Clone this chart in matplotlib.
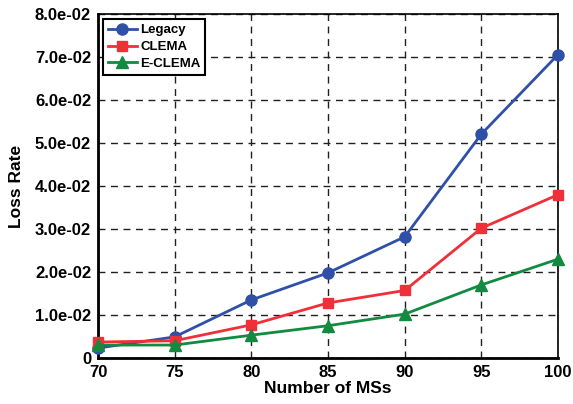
import matplotlib.pyplot as plt
import numpy as np

plt.rcParams['font.family'] = ['Liberation Sans', 'DejaVu Sans']
plt.rcParams['font.weight'] = 'bold'

# Data
num_ms = [70, 75, 80, 85, 90, 95, 100]
legacy = [0.0023, 0.0049, 0.0135, 0.0198, 0.0282, 0.0521, 0.0706]
clema = [0.0037, 0.0040, 0.0077, 0.0128, 0.0157, 0.0302, 0.0380]
eclema = [0.0030, 0.0030, 0.0053, 0.0075, 0.0102, 0.0170, 0.0230]

y_ticks = [0, 0.01, 0.02, 0.03, 0.04, 0.05, 0.06, 0.07, 0.08]
y_labels = ["0"] + [f"{v:.1e}" for v in y_ticks[1:]]

fig = plt.figure(figsize=(5.73, 4.04), dpi=100)
ax = fig.add_axes([0.171, 0.114, 0.803, 0.851])

ax.plot(num_ms, legacy, color="#3050a8", lw=2, marker="o", ms=8, label="Legacy", clip_on=False, zorder=3)
ax.plot(num_ms, clema, color="#f03038", lw=2, marker="s", ms=7, label="CLEMA", clip_on=False, zorder=3)
ax.plot(num_ms, eclema, color="#128a40", lw=2, marker="^", ms=9, label="E-CLEMA", clip_on=False, zorder=3)

ax.set_xlim(70, 100)
ax.set_ylim(0, 0.08)
ax.set_xticks(num_ms)
ax.set_yticks(y_ticks)
ax.set_yticklabels(y_labels)
ax.tick_params(direction="in", length=0, labelsize=12, pad=5)
ax.grid(True, color="#202020", ls=(0, (5, 4)), lw=1)
for s in ax.spines.values():
    s.set_linewidth(1.2)
ax.spines["left"].set_linewidth(2)
ax.spines["bottom"].set_linewidth(2)

ax.set_xlabel("Number of MSs", fontsize=12.5, fontweight="bold", labelpad=1)
ax.set_ylabel("Loss Rate", fontsize=12.5, fontweight="bold", labelpad=8)

leg = ax.legend(loc="upper left", fontsize=9.5, fancybox=False, framealpha=1,
                edgecolor="black", handlelength=2.2, borderpad=0.35,
                labelspacing=0.35, handletextpad=0.25, borderaxespad=0.4)
leg.get_frame().set_linewidth(1.5)

fig.savefig("out.png", dpi=100)
